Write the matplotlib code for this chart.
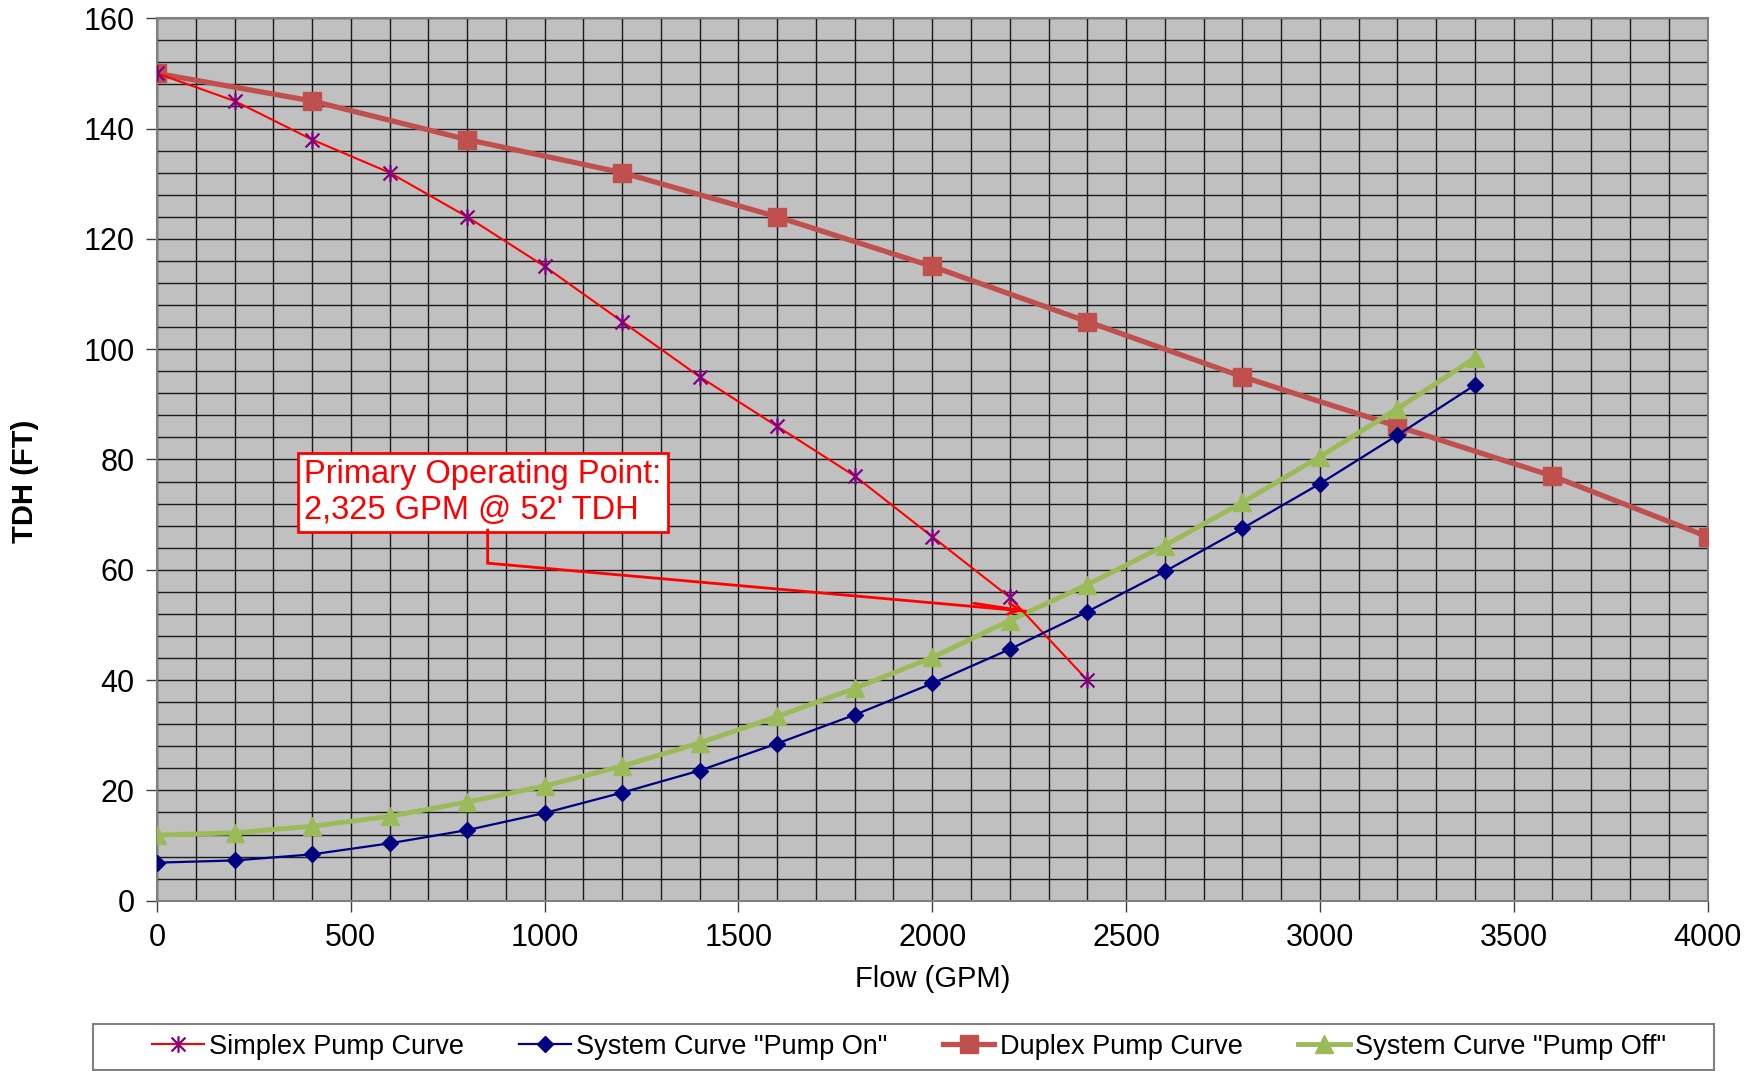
import matplotlib
matplotlib.use("Agg")
import matplotlib.pyplot as plt
from matplotlib.path import Path
from matplotlib.patches import Rectangle
import numpy as np

plt.rcParams["font.family"] = ["Liberation Sans", "DejaVu Sans"]

# pump / system curve data
simplex_flow = [0, 200, 400, 600, 800, 1000, 1200, 1400, 1600, 1800, 2000, 2200, 2400]
simplex_tdh = [150, 145, 138, 132, 124, 115, 105, 95, 86, 77, 66, 55, 40]

duplex_flow = [0, 400, 800, 1200, 1600, 2000, 2400, 2800, 3200, 3600, 4000]
duplex_tdh = [150, 145, 138, 132, 124, 115, 105, 95, 86, 77, 66]

system_flow = [0, 200, 400, 600, 800, 1000, 1200, 1400, 1600, 1800,
               2000, 2200, 2400, 2600, 2800, 3000, 3200, 3400]
pump_on_tdh = [6.9, 7.3, 8.4, 10.4, 12.8, 15.9, 19.6, 23.6, 28.5, 33.7,
               39.4, 45.6, 52.4, 59.7, 67.5, 75.6, 84.4, 93.5]
pump_off_tdh = [11.9, 12.3, 13.5, 15.3, 17.9, 20.8, 24.4, 28.6, 33.4, 38.5,
                44.1, 50.8, 57.3, 64.4, 72.2, 80.5, 89.2, 98.4]

op_label = "Primary Operating Point:\n2,325 GPM @ 52' TDH"
op_point = (2240, 52.5)

# excel-style star marker: an X with a vertical bar through it
star = Path([(-1, -1), (1, 1), (-1, 1), (1, -1), (0, -1.2), (0, 1.2)],
            [Path.MOVETO, Path.LINETO] * 3)

fig = plt.figure(figsize=(17.56, 10.71), dpi=100)
ax = fig.add_axes([0.0894, 0.159, 0.883, 0.824])
ax.set_facecolor("#C0C0C0")

ax.plot(simplex_flow, simplex_tdh, color="#FF0000", lw=1.5, marker=star,
        ms=12, mec="#800080", mfc="none", mew=1.6, label="Simplex Pump Curve", zorder=4)
ax.plot(system_flow, pump_on_tdh, color="#000080", lw=1.6, marker="D",
        ms=8, mfc="#000080", mec="#000080", label='System Curve "Pump On"', zorder=4)
ax.plot(duplex_flow, duplex_tdh, color="#C0504D", lw=3.8, marker="s",
        ms=13, mfc="#C0504D", mec="#C0504D", label="Duplex Pump Curve", zorder=3)
ax.plot(system_flow, pump_off_tdh, color="#9BBB59", lw=3.5, marker="^",
        ms=13, mfc="#9BBB59", mec="#9BBB59", label='System Curve "Pump Off"', zorder=3)

ax.set_xlim(0, 4000)
ax.set_ylim(0, 160)
ax.set_xticks(np.arange(0, 4001, 500))
ax.set_yticks(np.arange(0, 161, 20))
ax.set_xticks(np.arange(0, 4001, 100), minor=True)
ax.set_yticks(np.arange(0, 161, 4), minor=True)
ax.grid(which="both", color="#1a1a1a", lw=1.0, zorder=1)
ax.set_axisbelow(True)
ax.tick_params(which="major", labelsize=22, length=8, width=1, color="#404040", pad=8)
ax.tick_params(which="minor", length=0)
for s in ax.spines.values():
    s.set_color("#808080")
    s.set_linewidth(1.5)

ax.set_xlabel("Flow (GPM)", fontsize=21, labelpad=9)
ax.set_ylabel("TDH (FT)", fontsize=21, fontweight="bold")
ax.yaxis.set_label_coords(-0.076, 0.475)

# callout box with elbow leader
ax.annotate(op_label, xy=op_point, xytext=(380, 74), fontsize=23.5, color="#FF0000",
            va="center", ha="left", linespacing=1.2,
            bbox=dict(boxstyle="square,pad=0.2", fc="white", ec="#FF0000", lw=2),
            zorder=6)
ax.plot([853, 853, op_point[0]], [67.2, 61.2, op_point[1]], color="#FF0000",
        lw=2, zorder=6, solid_joinstyle="miter")
ax.annotate("", xy=op_point, xytext=(2100, 54.0),
            arrowprops=dict(arrowstyle="->,head_length=0.8,head_width=0.4",
                            color="#FF0000", lw=2), zorder=6)

# legend entries spread across the strip, frame drawn separately (wider padding)
fig.patches.append(Rectangle((0.0529, 0.001), 0.9229, 0.043, transform=fig.transFigure,
                             fc="white", ec="#808080", lw=1.5, zorder=0))
fig.legend(loc="center", bbox_to_anchor=(0.0867, 0.001, 0.862, 0.043), mode="expand",
           ncol=4, fontsize=19.5, frameon=False, handlelength=1.9,
           handletextpad=0.2, borderpad=0.0, borderaxespad=0.0)

fig.savefig("out.png", dpi=100)
